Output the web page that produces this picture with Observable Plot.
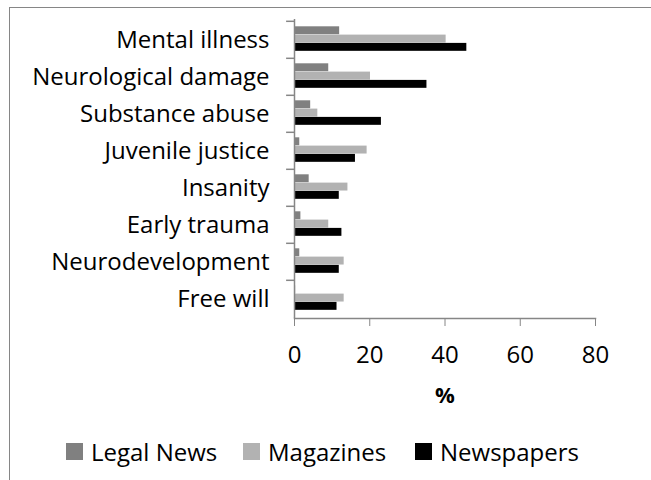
<!DOCTYPE html>
<html>
<head>
<meta charset="utf-8">
<script src="https://cdn.jsdelivr.net/npm/d3@7"></script>
<script src="https://cdn.jsdelivr.net/npm/@observablehq/plot@0.6"></script>
<style>
  html, body { margin: 0; padding: 0; background: #fff; }
  body { width: 651px; height: 480px; position: relative; overflow: hidden; font-family: "Open Sans", sans-serif; }
  #border { position: absolute; left: 9px; top: 7px; width: 700px; height: 600px; border: 1.5px solid #868686; z-index: 2; pointer-events: none; }
  #legend { position: absolute; left: 0; top: 435px; width: 651px; height: 34px; font-size: 24px; color: #000; line-height: 33px; }
  #legend .item { position: absolute; top: 0; display: flex; align-items: center; white-space: nowrap; }
  #legend .sw { width: 17px; height: 17px; margin-right: 8px; }
</style>
</head>
<body>
<div id="border"></div>
<div id="chart"></div>
<div id="legend"></div>
<script>
const categories = ["Mental illness", "Neurological damage", "Substance abuse", "Juvenile justice", "Insanity", "Early trauma", "Neurodevelopment", "Free will"];
const legalNews  = [12, 9.1, 4.3, 1.4, 3.9, 1.7, 1.4, 0.3];
const magazines  = [40.3, 20.2, 6.2, 19.3, 14.2, 9.1, 13.2, 13.2];
const newspapers = [45.8, 35.2, 23.1, 16.2, 11.9, 12.6, 11.9, 11.3];
const xTicks = [0, 20, 40, 60, 80];
const seriesNames = ["Legal News", "Magazines", "Newspapers"];
const seriesColors = ["#808080", "#b2b2b2", "#000000"];

const table = categories.map((c, i) => ({cat: c, legal: legalNews[i], mag: magazines[i], news: newspapers[i]}));

const W = 651, H = 420, mTop = 19, mBottom = H - 318, mLeft = 294, mRight = 56;
const band = (H - mTop - mBottom) / categories.length;
const barH = 8.3, off = 5.3;
const axisColor = "#868686";

const chart = Plot.plot({
  width: W, height: H,
  marginTop: mTop, marginBottom: mBottom, marginLeft: mLeft, marginRight: mRight,
  style: {fontFamily: "Open Sans, sans-serif", color: "#000", background: "transparent"},
  x: {domain: [0, 80]},
  y: {domain: categories, padding: 0},
  marks: [
    Plot.barX(table, {x: "legal", y: "cat", fill: seriesColors[0], insetTop: off, insetBottom: band - off - barH}),
    Plot.barX(table, {x: "mag", y: "cat", fill: seriesColors[1], insetTop: off + barH, insetBottom: band - off - 2 * barH}),
    Plot.barX(table, {x: "news", y: "cat", fill: seriesColors[2], insetTop: off + 2 * barH, insetBottom: band - off - 3 * barH}),
    Plot.ruleX([0], {stroke: axisColor, strokeWidth: 1.5}),
    Plot.ruleY(categories, {y: d => d, x1: -2.1, x2: 0, stroke: axisColor, strokeWidth: 1.5, dy: -band / 2}),
    Plot.frame({anchor: "bottom", stroke: axisColor, strokeWidth: 1.5}),
    Plot.axisX({ticks: xTicks, tickSize: 8, tickPadding: 19, fontSize: 24, stroke: axisColor, label: null, tickFormat: d => String(d)}),
    Plot.axisY({tickSize: 0, tickPadding: 25, fontSize: 24, label: null}),
    Plot.text(["%"], {frameAnchor: "bottom", x: 40, dy: 84, fontSize: 22, fontWeight: "bold"})
  ]
});
document.getElementById("chart").append(chart);

const legend = document.getElementById("legend");
const legendLeft = [66, 243, 415];
seriesNames.forEach((n, i) => {
  const it = document.createElement("div");
  it.className = "item";
  it.style.left = legendLeft[i] + "px";
  const sw = document.createElement("div");
  sw.className = "sw";
  sw.style.background = seriesColors[i];
  const t = document.createElement("span");
  t.textContent = n;
  it.append(sw, t);
  legend.append(it);
});
</script>
</body>
</html>
